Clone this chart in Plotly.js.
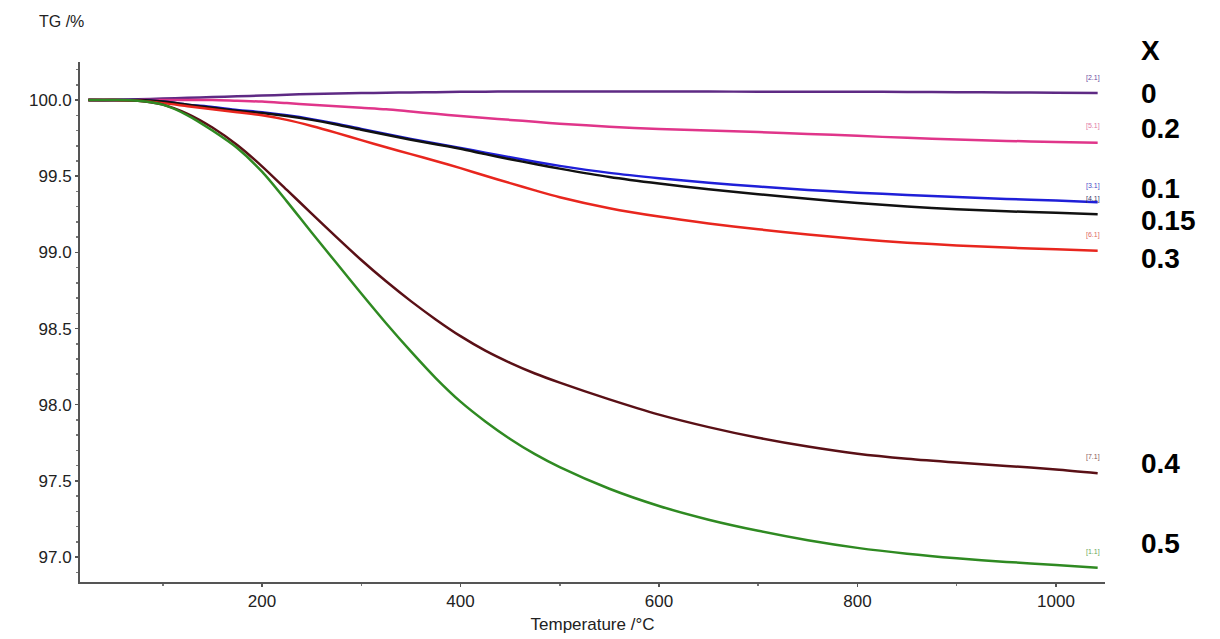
<!DOCTYPE html>
<html>
<head>
<meta charset="utf-8">
<script src="https://cdn.plot.ly/plotly-3.0.1.min.js"></script>
<style>html,body{margin:0;padding:0;background:#fff;}#chart{width:1220px;height:639px;}</style>
</head>
<body>
<div id="chart"></div>
<script>
const temperature = [25, 50, 75, 100, 125, 150, 175, 200, 225, 250, 275, 300, 325, 350, 375, 400, 425, 450, 475, 500, 550, 600, 650, 700, 750, 800, 850, 900, 950, 1000, 1042];

const tg_x0    = [100.0, 100.0, 100.005, 100.01, 100.015, 100.02, 100.025, 100.03, 100.035, 100.04, 100.043, 100.046, 100.048, 100.05, 100.052, 100.054, 100.055, 100.056, 100.056, 100.056, 100.056, 100.056, 100.056, 100.055, 100.055, 100.055, 100.053, 100.052, 100.05, 100.048, 100.047];
const tg_x02   = [100.0, 100.0, 100.0, 100.0, 100.0, 100.0, 99.995, 99.99, 99.98, 99.97, 99.96, 99.95, 99.94, 99.925, 99.91, 99.895, 99.882, 99.87, 99.857, 99.845, 99.825, 99.81, 99.80, 99.79, 99.778, 99.765, 99.752, 99.741, 99.732, 99.725, 99.72];
const tg_x01   = [100.0, 100.0, 100.0, 99.99, 99.97, 99.955, 99.935, 99.92, 99.90, 99.875, 99.845, 99.81, 99.777, 99.745, 99.715, 99.685, 99.655, 99.625, 99.595, 99.568, 99.522, 99.487, 99.457, 99.432, 99.41, 99.392, 99.377, 99.363, 99.351, 99.34, 99.33];
const tg_x015  = [100.0, 100.0, 100.0, 99.99, 99.97, 99.95, 99.93, 99.915, 99.895, 99.87, 99.84, 99.805, 99.772, 99.74, 99.71, 99.68, 99.645, 99.612, 99.58, 99.55, 99.495, 99.452, 99.415, 99.382, 99.352, 99.325, 99.302, 99.283, 99.27, 99.26, 99.25];
const tg_x03   = [100.0, 100.0, 99.995, 99.98, 99.96, 99.94, 99.92, 99.90, 99.87, 99.83, 99.785, 99.737, 99.69, 99.645, 99.6, 99.553, 99.503, 99.455, 99.407, 99.362, 99.29, 99.235, 99.19, 99.152, 99.118, 99.088, 99.064, 99.046, 99.032, 99.02, 99.01];
const tg_x04   = [100.0, 100.0, 99.995, 99.97, 99.91, 99.82, 99.705, 99.565, 99.41, 99.255, 99.1, 98.95, 98.81, 98.68, 98.56, 98.45, 98.355, 98.275, 98.205, 98.145, 98.035, 97.935, 97.853, 97.783, 97.725, 97.678, 97.645, 97.62, 97.598, 97.575, 97.55];
const tg_x05   = [100.0, 100.0, 99.995, 99.97, 99.90, 99.80, 99.685, 99.53, 99.335, 99.13, 98.93, 98.73, 98.535, 98.35, 98.175, 98.02, 97.89, 97.775, 97.675, 97.59, 97.448, 97.335, 97.245, 97.172, 97.11, 97.06, 97.022, 96.992, 96.968, 96.948, 96.93];

const seriesNames  = ["0", "0.2", "0.1", "0.15", "0.3", "0.4", "0.5"];
const seriesTags   = ["[2.1]", "[5.1]", "[3.1]", "[4.1]", "[6.1]", "[7.1]", "[1.1]"];
const seriesData   = [tg_x0, tg_x02, tg_x01, tg_x015, tg_x03, tg_x04, tg_x05];
const seriesColors = ["#5e2a84", "#e0358a", "#1f1fd8", "#111111", "#e8261e", "#5a1016", "#2f8a22"];
const tagColors    = ["#6a4ba0", "#e27aa6", "#4a4ac8", "#3a3a6a", "#e06a66", "#8a5a5a", "#6aa85a"];
// side labels (X values) and instrument tags
const labelTexts = ["X", "0", "0.2", "0.1", "0.15", "0.3", "0.4", "0.5"];
const labelPy    = [50, 93, 128, 188, 220, 258, 463, 543];
const tagPy      = [78, 126, 186, 199, 235, 457, 552];

const L = 80, R = 1105, T = 62, B = 582;
const W = 1220, H = 639;

const traces = seriesData.map((d, i) => ({
  x: temperature, y: d, type: "scatter", mode: "lines",
  name: seriesNames[i],
  line: {color: seriesColors[i], width: 2.5, shape: "spline", smoothing: 0.8},
  hoverinfo: "x+y+name"
}));

const annotations = [];
labelTexts.forEach((t, i) => {
  annotations.push({
    xref: "paper", yref: "paper",
    x: (1139 - L) / (R - L), y: (B - labelPy[i]) / (B - T),
    xanchor: "left", yanchor: "middle", showarrow: false,
    text: "<b>" + t + "</b>",
    font: {family: "Liberation Sans, Arial, sans-serif", size: 28, color: "#000"}
  });
});
seriesTags.forEach((t, i) => {
  annotations.push({
    xref: "paper", yref: "paper",
    x: (1093 - L) / (R - L), y: (B - tagPy[i]) / (B - T),
    xanchor: "center", yanchor: "middle", showarrow: false,
    text: t,
    font: {family: "Liberation Sans, Arial, sans-serif", size: 7, color: tagColors[i]}
  });
});
annotations.push({
  xref: "paper", yref: "paper", x: (61 - L) / (R - L), y: (B - 21) / (B - T),
  xanchor: "center", yanchor: "middle", showarrow: false,
  text: "TG /%",
  font: {family: "Liberation Sans, Arial, sans-serif", size: 16, color: "#222"}
});

const layout = {
  width: W, height: H,
  margin: {l: L, r: W - R, t: T, b: H - B, pad: 0},
  paper_bgcolor: "#fff", plot_bgcolor: "#fff",
  showlegend: false,
  font: {family: "Liberation Sans, Arial, sans-serif", size: 17, color: "#222"},
  xaxis: {
    range: [16.6, 1049.4], dtick: 200, tick0: 0,
    showgrid: false, zeroline: false,
    showline: true, linecolor: "#555", linewidth: 2,
    ticks: "outside", ticklen: 3, tickcolor: "#555", tickwidth: 1.5,
    minor: {dtick: 100, ticks: "outside", ticklen: 2, tickcolor: "#777"},
    tickfont: {size: 17, color: "#222"},
    title: {text: "Temperature /°C", font: {size: 17, color: "#222"}, standoff: 8}
  },
  yaxis: {
    range: [96.836, 100.25], dtick: 0.5, tick0: 97, tickformat: ".1f",
    showgrid: false, zeroline: false,
    showline: true, linecolor: "#555", linewidth: 2,
    ticks: "outside", ticklen: 3, tickcolor: "#555", tickwidth: 1.5,
    minor: {dtick: 0.1, ticks: "outside", ticklen: 2, tickcolor: "#777"},
    tickfont: {size: 17, color: "#222"}
  },
  annotations: annotations
};

Plotly.newPlot("chart", traces, layout, {displayModeBar: false, staticPlot: true});
</script>
</body>
</html>
